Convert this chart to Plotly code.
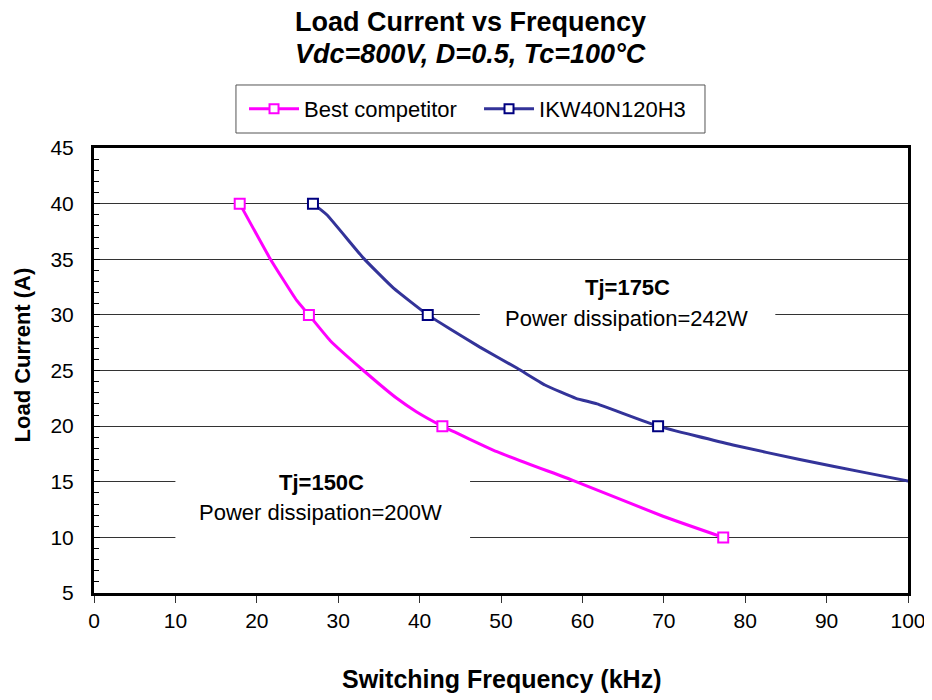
import plotly.graph_objects as go

# ---- data ----
pink_x = [17.9, 21.6, 24.9, 26.4, 29.0, 33.1, 37.2, 39.6, 42.8, 49.5, 58.9, 69.9, 77.3]
pink_y = [40, 35.1, 31.3, 30, 27.7, 25.0, 22.5, 21.3, 20, 17.7, 15.1, 11.9, 10]
pink_mx = [17.9, 26.4, 42.8, 77.3]
pink_my = [40, 30, 20, 10]

blue_x = [26.9, 28.6, 33.1, 36.8, 41.0, 43.6, 47.4, 52.0, 55.4, 59.2, 61.8, 69.3, 78.5, 86.7, 94.9, 100.5]
blue_y = [40, 39.0, 35.1, 32.4, 30, 28.8, 27.1, 25.2, 23.7, 22.5, 22.0, 20, 18.3, 17.0, 15.8, 15.0]
blue_mx = [26.9, 41.0, 69.3]
blue_my = [40, 30, 20]

names = ["Best competitor", "IKW40N120H3"]
x_ticks = [0, 10, 20, 30, 40, 50, 60, 70, 80, 90, 100]
y_ticks = [5, 10, 15, 20, 25, 30, 35, 40, 45]

PINK = "#FF00FF"
BLUE_LINE = "#333399"
BLUE_MARK = "#000080"
FONT = "Liberation Sans, Arial, sans-serif"

fig = go.Figure()

# lines
fig.add_trace(go.Scatter(x=pink_x, y=pink_y, mode="lines", showlegend=False,
                         line=dict(color=PINK, width=3, shape="spline", smoothing=0.4)))
fig.add_trace(go.Scatter(x=blue_x, y=blue_y, mode="lines", showlegend=False,
                         line=dict(color=BLUE_LINE, width=3, shape="spline", smoothing=0.4)))
# markers
fig.add_trace(go.Scatter(x=pink_mx, y=pink_my, mode="markers", showlegend=False,
                         marker=dict(symbol="square", size=10, color="white",
                                     line=dict(color=PINK, width=2))))
fig.add_trace(go.Scatter(x=blue_mx, y=blue_my, mode="markers", showlegend=False,
                         marker=dict(symbol="square", size=10, color="white",
                                     line=dict(color=BLUE_MARK, width=2))))
# legend entries
fig.add_trace(go.Scatter(x=[None], y=[None], mode="lines+markers", name=names[0],
                         line=dict(color=PINK, width=3),
                         marker=dict(symbol="square", size=9, color="white", line=dict(color=PINK, width=2))))
fig.add_trace(go.Scatter(x=[None], y=[None], mode="lines+markers", name=names[1],
                         line=dict(color=BLUE_LINE, width=3),
                         marker=dict(symbol="square", size=9, color="white", line=dict(color=BLUE_MARK, width=2))))

shapes = [
    # white boxes behind the condition labels (cover gridlines, under the curves)
    dict(type="rect", xref="x", yref="y", x0=47.4, x1=83.7, y0=28.6, y1=33.6,
         fillcolor="white", line=dict(width=0), layer="between"),
    dict(type="rect", xref="x", yref="y", x0=10.0, x1=46.2, y0=9.3, y1=16.2,
         fillcolor="white", line=dict(width=0), layer="between"),
    # legend frame
    dict(type="rect", xref="paper", yref="paper", x0=0.1744, x1=0.7506, y0=1.0337, y1=1.1416,
         fillcolor="white", line=dict(color="#555555", width=1), layer="below"),
]

fig.update_layout(
    width=924, height=692,
    margin=dict(l=86, r=24, t=140, b=107, autoexpand=False),
    paper_bgcolor="white", plot_bgcolor="white",
    font=dict(family=FONT, color="black", size=20),
    shapes=shapes,
    legend=dict(orientation="h", x=0.1843, xanchor="left", y=1.0876, yanchor="middle",
                borderwidth=0, bgcolor="rgba(0,0,0,0)",
                font=dict(size=22, family=FONT), itemwidth=50,
                entrywidth=170, entrywidthmode="pixels"),
    xaxis=dict(range=[0, 100], tickvals=x_ticks, ticks="outside", ticklen=7, tickcolor="#333",
               showline=True, linewidth=3, linecolor="black", mirror=True,
               showgrid=False, zeroline=False, tickfont=dict(size=21),
               automargin=False, ticklabeloverflow="allow"),
    yaxis=dict(range=[5, 45], tickvals=y_ticks, ticks="inside", ticklen=6, tickcolor="black",
               showline=True, linewidth=3, linecolor="black", mirror=True,
               showgrid=True, gridcolor="#333333", gridwidth=1, zeroline=False,
               tickfont=dict(size=21), ticklabelstandoff=13, automargin=False,
               minor=dict(dtick=1, ticks="inside", ticklen=5, tickcolor="black", showgrid=False)),
    annotations=[
        dict(text="<b>Load Current vs Frequency</b>", xref="paper", yref="paper",
             x=0.462, y=1.284, xanchor="center", yanchor="middle", showarrow=False,
             font=dict(size=27, family=FONT)),
        dict(text="<b><i>Vdc=800V, D=0.5, Tc=100°C</i></b>", xref="paper", yref="paper",
             x=0.462, y=1.212, xanchor="center", yanchor="middle", showarrow=False,
             font=dict(size=27, family=FONT)),
        dict(text="<b>Switching Frequency (kHz)</b>", xref="paper", yref="paper",
             x=0.5, y=-0.194, xanchor="center", yanchor="middle", showarrow=False,
             font=dict(size=25, family=FONT)),
        dict(text="<b>Load Current (A)</b>", xref="paper", yref="paper",
             x=-0.0878, y=0.535, xanchor="center", yanchor="middle", showarrow=False,
             textangle=-90, font=dict(size=22, family=FONT)),
        dict(text="<b>Tj=175C</b>", x=65.5, y=32.5, xanchor="center", yanchor="middle",
             showarrow=False, font=dict(size=22, family=FONT)),
        dict(text="Power dissipation=242W", x=65.4, y=29.7, xanchor="center", yanchor="middle",
             showarrow=False, font=dict(size=22, family=FONT)),
        dict(text="<b>Tj=150C</b>", x=28.0, y=14.9, xanchor="center", yanchor="middle",
             showarrow=False, font=dict(size=22, family=FONT)),
        dict(text="Power dissipation=200W", x=27.8, y=12.2, xanchor="center", yanchor="middle",
             showarrow=False, font=dict(size=22, family=FONT)),
    ],
)

fig.write_html("out.html")
